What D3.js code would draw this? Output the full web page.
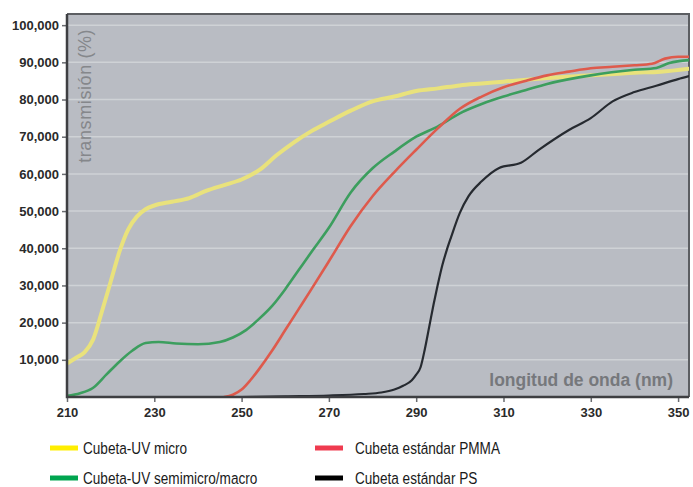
<!DOCTYPE html>
<html>
<head>
<meta charset="utf-8">
<script src="https://cdn.jsdelivr.net/npm/d3@7/dist/d3.min.js"></script>
<style>
  html, body { margin: 0; padding: 0; background: #ffffff; }
  svg { display: block; }
</style>
</head>
<body>
<script>
// Transmission curves of cuvette materials (wavelength in nm, transmission in %)
const microWl   = [210, 212, 214, 216, 218, 220, 222, 224, 226, 228, 230, 234, 238, 242, 246, 250, 254, 258, 262, 266, 270, 275, 280, 285, 290, 295, 300, 305, 310, 320, 330, 340, 346, 352.5];
const microT    = [9, 10.5, 12, 15.5, 23, 31, 39, 45, 48.5, 50.5, 51.5, 52.5, 53.5, 55.5, 57, 58.5, 61, 65, 68.5, 71.5, 74, 77, 79.5, 80.8, 82.3, 83, 83.8, 84.3, 84.8, 85.8, 86.5, 87.2, 87.5, 88.3];

const semiWl    = [210, 213, 216, 219, 222, 225, 228, 231, 235, 240, 245, 248, 251, 254, 257, 260, 263, 266, 270, 275, 280, 285, 290, 295, 300, 305, 310, 315, 320, 330, 340, 345, 348, 352.5];
const semiT     = [0.3, 1, 2.5, 6, 9.5, 12.5, 14.5, 14.8, 14.4, 14.2, 14.8, 16, 18, 21, 24.5, 29, 34, 39, 45.5, 55, 61.5, 66, 70, 72.8, 76.3, 78.8, 80.8, 82.5, 84.2, 86.5, 88, 88.5, 89.8, 90.6];

const pmmaWl    = [246, 248, 250, 252, 254, 257, 260, 263, 266, 270, 275, 280, 285, 290, 295, 300, 305, 310, 315, 320, 325, 330, 335, 340, 344, 347, 350, 352.5];
const pmmaT     = [0, 0.6, 2, 4.5, 7.5, 12.5, 18, 23.5, 29, 36.5, 46, 54, 60.5, 66.5, 72.3, 77.5, 80.8, 83.3, 85, 86.5, 87.5, 88.4, 88.8, 89.2, 89.6, 91, 91.5, 91.5];

const psWl      = [250, 260, 270, 278, 282, 285, 287, 289, 290, 291, 292, 293, 294, 295, 296, 297, 298, 300, 302, 305, 309, 314, 318, 325, 330, 335, 340, 345, 350, 352.5];
const psT       = [0, 0.2, 0.4, 0.8, 1.2, 2, 3, 4.5, 6, 8, 13, 19, 25, 30.5, 35.5, 39.5, 43, 49.5, 54, 58, 61.6, 63, 66.4, 71.8, 75, 79.5, 82, 83.7, 85.5, 86.3];

const xTicks = [210, 230, 250, 270, 290, 310, 330, 350];
const yTicks = [10, 20, 30, 40, 50, 60, 70, 80, 90, 100];

const seriesNames  = ["Cubeta-UV micro", "Cubeta-UV semimicro/macro", "Cubeta estándar PMMA", "Cubeta estándar PS"];
const lineColors   = ["#e9e27c", "#3c9e5e", "#de5a4c", "#262a30"];
const legendColors = ["#ffee00", "#00a54f", "#ef3b4f", "#000000"];
const lineWidths   = [4, 2.6, 2.6, 2.2];

const series = [
  { wl: microWl, t: microT },
  { wl: semiWl,  t: semiT },
  { wl: pmmaWl,  t: pmmaT },
  { wl: psWl,    t: psT }
];

const W = 693, H = 487;
const plot = { left: 67, right: 689, top: 14, bottom: 397 };

const svg = d3.select("body").append("svg")
  .attr("width", W).attr("height", H);

const x = d3.scaleLinear().domain([210, 352.5]).range([plot.left, plot.right]);
const y = d3.scaleLinear().domain([0, 103]).range([plot.bottom, plot.top]);

// plot background
svg.append("rect")
  .attr("x", plot.left).attr("y", plot.top)
  .attr("width", plot.right - plot.left).attr("height", plot.bottom - plot.top)
  .attr("fill", "#b9bcc3");

// horizontal grid
svg.append("g").selectAll("line").data(yTicks).join("line")
  .attr("x1", plot.left).attr("x2", plot.right)
  .attr("y1", d => y(d)).attr("y2", d => y(d))
  .attr("stroke", "#cfd2d6").attr("stroke-width", 1.5);

// frame (top and right edges)
svg.append("path")
  .attr("d", `M${plot.left},${plot.top}H${plot.right}V${plot.bottom}`)
  .attr("fill", "none").attr("stroke", "#5c5e62").attr("stroke-width", 2);

// in-plot axis titles
svg.append("text")
  .attr("transform", `translate(${plot.left + 24},${y(81)}) rotate(-90)`)
  .attr("text-anchor", "middle")
  .attr("font-family", "'Liberation Sans', Arial, sans-serif")
  .attr("font-size", 18)
  .attr("letter-spacing", 0.6)
  .attr("fill", "#85878b")
  .text("transmisión (%)");

svg.append("text")
  .attr("x", plot.right - 16).attr("y", plot.bottom - 11)
  .attr("text-anchor", "end")
  .attr("font-family", "'Liberation Sans', Arial, sans-serif")
  .attr("font-weight", "bold")
  .attr("font-size", 17.5)
  .attr("fill", "#76787c")
  .text("longitud de onda (nm)");

// curves
const line = d3.line()
  .x(d => x(d[0])).y(d => y(d[1]))
  .curve(d3.curveMonotoneX);

svg.append("clipPath").attr("id", "plotClip")
  .append("rect")
  .attr("x", plot.left).attr("y", plot.top)
  .attr("width", plot.right - plot.left).attr("height", plot.bottom - plot.top);

const curves = svg.append("g").attr("clip-path", "url(#plotClip)");
series.forEach((s, i) => {
  curves.append("path")
    .datum(s.wl.map((w, k) => [w, s.t[k]]))
    .attr("d", line)
    .attr("fill", "none")
    .attr("stroke", lineColors[i])
    .attr("stroke-width", lineWidths[i])
    .attr("stroke-linejoin", "round")
    .attr("stroke-linecap", "round");
});

// axes
const fmt = d => d3.format(",")(d * 1000);

const yAxis = svg.append("g")
  .attr("transform", `translate(${plot.left},0)`)
  .call(d3.axisLeft(y).tickValues(yTicks).tickFormat(fmt).tickSize(5).tickPadding(3));

const xAxis = svg.append("g")
  .attr("transform", `translate(0,${plot.bottom})`)
  .call(d3.axisBottom(x).tickValues(xTicks).tickFormat(d3.format("d")).tickSize(5).tickPadding(6));

[yAxis, xAxis].forEach(g => {
  g.select(".domain").remove();
  g.selectAll(".tick line").attr("stroke", "#6a6c70").attr("stroke-width", 1.5);
  g.selectAll(".tick text")
    .attr("font-family", "'Liberation Sans', Arial, sans-serif")
    .attr("font-weight", "bold")
    .attr("font-size", 13)
    .attr("fill", "#2a2a2a");
});

// axis lines drawn over the curves
svg.append("path")
  .attr("d", `M${plot.left},${plot.top}V${plot.bottom}H${plot.right}`)
  .attr("fill", "none").attr("stroke", "#3e3f42").attr("stroke-width", 2.5);

// legend (condensed text)
const legendPos = [[50, 448], [50, 478], [315, 448], [315, 478]];
const legend = svg.append("g");
seriesNames.forEach((name, i) => {
  const [lx, ly] = legendPos[i];
  legend.append("line")
    .attr("x1", lx).attr("x2", lx + 28)
    .attr("y1", ly).attr("y2", ly)
    .attr("stroke", legendColors[i]).attr("stroke-width", 5);
  legend.append("text")
    .attr("transform", `translate(${lx + (i < 2 ? 33 : 40)},${ly + 6}) scale(0.8,1)`)
    .attr("font-family", "'Liberation Sans', Arial, sans-serif")
    .attr("font-size", 17)
    .attr("fill", "#1a1a1a")
    .text(name);
});
</script>
</body>
</html>
